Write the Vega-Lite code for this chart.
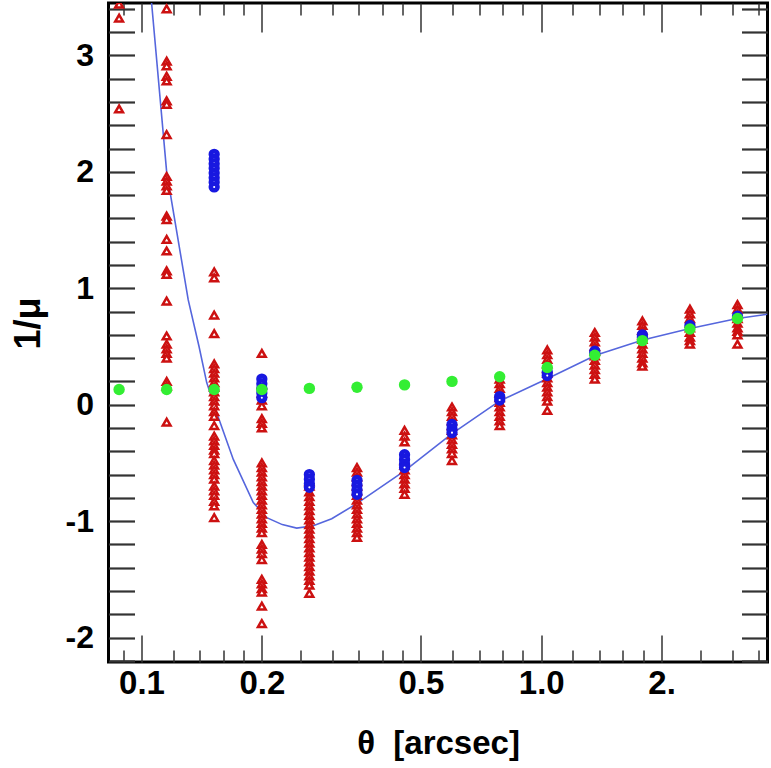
{
  "$schema": "https://vega.github.io/schema/vega-lite/v6.json",
  "width": 659,
  "height": 659,
  "autosize": {"type": "none"},
  "padding": {"left": 108.5, "top": 3, "right": 3.5, "bottom": 106},
  "background": "white",
  "config": {
    "view": {"stroke": "#000", "strokeWidth": 3},
    "axis": {"grid": false, "domain": false, "labelFont": "Liberation Sans", "labelFontWeight": "bold", "labelColor": "#000", "titleFont": "Liberation Sans", "titleColor": "#000", "tickColor": "#333", "labelOverlap": false, "labelFlush": false}
  },
  "datasets": {
    "curve": [
      {"theta": 0.100, "inv_mu": 4.4}, {"theta": 0.106, "inv_mu": 3.45}, {"theta": 0.1156, "inv_mu": 2.0}, {"theta": 0.1309, "inv_mu": 0.9},
      {"theta": 0.1393, "inv_mu": 0.5}, {"theta": 0.1456, "inv_mu": 0.19}, {"theta": 0.1542, "inv_mu": -0.07}, {"theta": 0.1697, "inv_mu": -0.47},
      {"theta": 0.1904, "inv_mu": -0.84}, {"theta": 0.2058, "inv_mu": -0.97}, {"theta": 0.225, "inv_mu": -1.03}, {"theta": 0.2445, "inv_mu": -1.06},
      {"theta": 0.269, "inv_mu": -1.04}, {"theta": 0.2991, "inv_mu": -0.98}, {"theta": 0.3454, "inv_mu": -0.85}, {"theta": 0.4541, "inv_mu": -0.57},
      {"theta": 0.597, "inv_mu": -0.25}, {"theta": 0.7853, "inv_mu": 0.03}, {"theta": 1.0316, "inv_mu": 0.22}, {"theta": 1.368, "inv_mu": 0.425},
      {"theta": 1.794, "inv_mu": 0.556}, {"theta": 2.355, "inv_mu": 0.654}, {"theta": 3.092, "inv_mu": 0.74}, {"theta": 3.68, "inv_mu": 0.777}
    ],
    "red": [
      {"theta": 0.0879, "inv_mu": 3.44}, {"theta": 0.0879, "inv_mu": 3.32}, {"theta": 0.0879, "inv_mu": 2.54},
      {"theta": 0.1156, "inv_mu": 3.40}, {"theta": 0.1156, "inv_mu": 2.95}, {"theta": 0.1156, "inv_mu": 2.91}, {"theta": 0.1156, "inv_mu": 2.82},
      {"theta": 0.1156, "inv_mu": 2.78}, {"theta": 0.1156, "inv_mu": 2.61}, {"theta": 0.1156, "inv_mu": 2.58}, {"theta": 0.1156, "inv_mu": 2.32},
      {"theta": 0.1156, "inv_mu": 1.96}, {"theta": 0.1156, "inv_mu": 1.92}, {"theta": 0.1156, "inv_mu": 1.88}, {"theta": 0.1156, "inv_mu": 1.84},
      {"theta": 0.1156, "inv_mu": 1.62}, {"theta": 0.1156, "inv_mu": 1.59}, {"theta": 0.1156, "inv_mu": 1.42}, {"theta": 0.1156, "inv_mu": 1.32},
      {"theta": 0.1156, "inv_mu": 1.15}, {"theta": 0.1156, "inv_mu": 1.12}, {"theta": 0.1156, "inv_mu": 0.89}, {"theta": 0.1156, "inv_mu": 0.59},
      {"theta": 0.1156, "inv_mu": 0.52}, {"theta": 0.1156, "inv_mu": 0.48}, {"theta": 0.1156, "inv_mu": 0.44}, {"theta": 0.1156, "inv_mu": 0.40},
      {"theta": 0.1156, "inv_mu": 0.20}, {"theta": 0.1156, "inv_mu": 0.16}, {"theta": 0.1156, "inv_mu": -0.15},
      {"theta": 0.152, "inv_mu": 1.14}, {"theta": 0.152, "inv_mu": 1.09}, {"theta": 0.152, "inv_mu": 0.77}, {"theta": 0.152, "inv_mu": 0.61},
      {"theta": 0.152, "inv_mu": 0.35}, {"theta": 0.152, "inv_mu": 0.31}, {"theta": 0.152, "inv_mu": 0.27}, {"theta": 0.152, "inv_mu": 0.23},
      {"theta": 0.152, "inv_mu": 0.19}, {"theta": 0.152, "inv_mu": 0.15}, {"theta": 0.152, "inv_mu": 0.11}, {"theta": 0.152, "inv_mu": 0.07},
      {"theta": 0.152, "inv_mu": 0.03}, {"theta": 0.152, "inv_mu": -0.01}, {"theta": 0.152, "inv_mu": -0.06}, {"theta": 0.152, "inv_mu": -0.10},
      {"theta": 0.152, "inv_mu": -0.18}, {"theta": 0.152, "inv_mu": -0.27}, {"theta": 0.152, "inv_mu": -0.31}, {"theta": 0.152, "inv_mu": -0.35},
      {"theta": 0.152, "inv_mu": -0.39}, {"theta": 0.152, "inv_mu": -0.42}, {"theta": 0.152, "inv_mu": -0.48}, {"theta": 0.152, "inv_mu": -0.52},
      {"theta": 0.152, "inv_mu": -0.56}, {"theta": 0.152, "inv_mu": -0.60}, {"theta": 0.152, "inv_mu": -0.64}, {"theta": 0.152, "inv_mu": -0.70},
      {"theta": 0.152, "inv_mu": -0.74}, {"theta": 0.152, "inv_mu": -0.78}, {"theta": 0.152, "inv_mu": -0.83}, {"theta": 0.152, "inv_mu": -0.87},
      {"theta": 0.152, "inv_mu": -0.97},
      {"theta": 0.2, "inv_mu": 0.44}, {"theta": 0.2, "inv_mu": 0.17}, {"theta": 0.2, "inv_mu": 0.10}, {"theta": 0.2, "inv_mu": 0.04},
      {"theta": 0.2, "inv_mu": -0.01}, {"theta": 0.2, "inv_mu": -0.12}, {"theta": 0.2, "inv_mu": -0.16}, {"theta": 0.2, "inv_mu": -0.20},
      {"theta": 0.2, "inv_mu": -0.50}, {"theta": 0.2, "inv_mu": -0.54}, {"theta": 0.2, "inv_mu": -0.58}, {"theta": 0.2, "inv_mu": -0.62},
      {"theta": 0.2, "inv_mu": -0.66}, {"theta": 0.2, "inv_mu": -0.70}, {"theta": 0.2, "inv_mu": -0.74}, {"theta": 0.2, "inv_mu": -0.78},
      {"theta": 0.2, "inv_mu": -0.82}, {"theta": 0.2, "inv_mu": -0.86}, {"theta": 0.2, "inv_mu": -0.90}, {"theta": 0.2, "inv_mu": -0.94},
      {"theta": 0.2, "inv_mu": -0.98}, {"theta": 0.2, "inv_mu": -1.02}, {"theta": 0.2, "inv_mu": -1.06}, {"theta": 0.2, "inv_mu": -1.10},
      {"theta": 0.2, "inv_mu": -1.20}, {"theta": 0.2, "inv_mu": -1.24}, {"theta": 0.2, "inv_mu": -1.28}, {"theta": 0.2, "inv_mu": -1.33},
      {"theta": 0.2, "inv_mu": -1.50}, {"theta": 0.2, "inv_mu": -1.54}, {"theta": 0.2, "inv_mu": -1.58}, {"theta": 0.2, "inv_mu": -1.61},
      {"theta": 0.2, "inv_mu": -1.73}, {"theta": 0.2, "inv_mu": -1.88},
      {"theta": 0.263, "inv_mu": -0.66}, {"theta": 0.263, "inv_mu": -0.70}, {"theta": 0.263, "inv_mu": -0.75}, {"theta": 0.263, "inv_mu": -0.79},
      {"theta": 0.263, "inv_mu": -0.83}, {"theta": 0.263, "inv_mu": -0.87}, {"theta": 0.263, "inv_mu": -0.91}, {"theta": 0.263, "inv_mu": -0.95},
      {"theta": 0.263, "inv_mu": -0.99}, {"theta": 0.263, "inv_mu": -1.03}, {"theta": 0.263, "inv_mu": -1.07}, {"theta": 0.263, "inv_mu": -1.11},
      {"theta": 0.263, "inv_mu": -1.15}, {"theta": 0.263, "inv_mu": -1.19}, {"theta": 0.263, "inv_mu": -1.23}, {"theta": 0.263, "inv_mu": -1.27},
      {"theta": 0.263, "inv_mu": -1.31}, {"theta": 0.263, "inv_mu": -1.35}, {"theta": 0.263, "inv_mu": -1.39}, {"theta": 0.263, "inv_mu": -1.43},
      {"theta": 0.263, "inv_mu": -1.47}, {"theta": 0.263, "inv_mu": -1.51}, {"theta": 0.263, "inv_mu": -1.55}, {"theta": 0.263, "inv_mu": -1.62},
      {"theta": 0.346, "inv_mu": -0.54}, {"theta": 0.346, "inv_mu": -0.58}, {"theta": 0.346, "inv_mu": -0.62}, {"theta": 0.346, "inv_mu": -0.66},
      {"theta": 0.346, "inv_mu": -0.70}, {"theta": 0.346, "inv_mu": -0.74}, {"theta": 0.346, "inv_mu": -0.78}, {"theta": 0.346, "inv_mu": -0.82},
      {"theta": 0.346, "inv_mu": -0.86}, {"theta": 0.346, "inv_mu": -0.90}, {"theta": 0.346, "inv_mu": -0.94}, {"theta": 0.346, "inv_mu": -0.98},
      {"theta": 0.346, "inv_mu": -1.02}, {"theta": 0.346, "inv_mu": -1.06}, {"theta": 0.346, "inv_mu": -1.10}, {"theta": 0.346, "inv_mu": -1.14},
      {"theta": 0.455, "inv_mu": -0.22}, {"theta": 0.455, "inv_mu": -0.27}, {"theta": 0.455, "inv_mu": -0.32}, {"theta": 0.455, "inv_mu": -0.48},
      {"theta": 0.455, "inv_mu": -0.52}, {"theta": 0.455, "inv_mu": -0.56}, {"theta": 0.455, "inv_mu": -0.60}, {"theta": 0.455, "inv_mu": -0.64},
      {"theta": 0.455, "inv_mu": -0.68}, {"theta": 0.455, "inv_mu": -0.72}, {"theta": 0.455, "inv_mu": -0.77},
      {"theta": 0.598, "inv_mu": -0.02}, {"theta": 0.598, "inv_mu": -0.06}, {"theta": 0.598, "inv_mu": -0.10}, {"theta": 0.598, "inv_mu": -0.14},
      {"theta": 0.598, "inv_mu": -0.18}, {"theta": 0.598, "inv_mu": -0.22}, {"theta": 0.598, "inv_mu": -0.26}, {"theta": 0.598, "inv_mu": -0.30},
      {"theta": 0.598, "inv_mu": -0.34}, {"theta": 0.598, "inv_mu": -0.38}, {"theta": 0.598, "inv_mu": -0.42}, {"theta": 0.598, "inv_mu": -0.48},
      {"theta": 0.787, "inv_mu": 0.22}, {"theta": 0.787, "inv_mu": 0.18}, {"theta": 0.787, "inv_mu": 0.14}, {"theta": 0.787, "inv_mu": 0.10},
      {"theta": 0.787, "inv_mu": 0.06}, {"theta": 0.787, "inv_mu": 0.02}, {"theta": 0.787, "inv_mu": -0.02}, {"theta": 0.787, "inv_mu": -0.06},
      {"theta": 0.787, "inv_mu": -0.10}, {"theta": 0.787, "inv_mu": -0.14}, {"theta": 0.787, "inv_mu": -0.18},
      {"theta": 1.035, "inv_mu": 0.47}, {"theta": 1.035, "inv_mu": 0.43}, {"theta": 1.035, "inv_mu": 0.39}, {"theta": 1.035, "inv_mu": 0.35},
      {"theta": 1.035, "inv_mu": 0.31}, {"theta": 1.035, "inv_mu": 0.27}, {"theta": 1.035, "inv_mu": 0.23}, {"theta": 1.035, "inv_mu": 0.19},
      {"theta": 1.035, "inv_mu": 0.15}, {"theta": 1.035, "inv_mu": 0.11}, {"theta": 1.035, "inv_mu": 0.07}, {"theta": 1.035, "inv_mu": 0.03},
      {"theta": 1.035, "inv_mu": -0.05},
      {"theta": 1.361, "inv_mu": 0.62}, {"theta": 1.361, "inv_mu": 0.58}, {"theta": 1.361, "inv_mu": 0.54}, {"theta": 1.361, "inv_mu": 0.50},
      {"theta": 1.361, "inv_mu": 0.46}, {"theta": 1.361, "inv_mu": 0.42}, {"theta": 1.361, "inv_mu": 0.38}, {"theta": 1.361, "inv_mu": 0.34},
      {"theta": 1.361, "inv_mu": 0.30}, {"theta": 1.361, "inv_mu": 0.26}, {"theta": 1.361, "inv_mu": 0.22},
      {"theta": 1.79, "inv_mu": 0.72}, {"theta": 1.79, "inv_mu": 0.68}, {"theta": 1.79, "inv_mu": 0.64}, {"theta": 1.79, "inv_mu": 0.60},
      {"theta": 1.79, "inv_mu": 0.56}, {"theta": 1.79, "inv_mu": 0.52}, {"theta": 1.79, "inv_mu": 0.48}, {"theta": 1.79, "inv_mu": 0.44},
      {"theta": 1.79, "inv_mu": 0.40}, {"theta": 1.79, "inv_mu": 0.36}, {"theta": 1.79, "inv_mu": 0.33},
      {"theta": 2.354, "inv_mu": 0.82}, {"theta": 2.354, "inv_mu": 0.78}, {"theta": 2.354, "inv_mu": 0.74}, {"theta": 2.354, "inv_mu": 0.70},
      {"theta": 2.354, "inv_mu": 0.66}, {"theta": 2.354, "inv_mu": 0.62}, {"theta": 2.354, "inv_mu": 0.58}, {"theta": 2.354, "inv_mu": 0.55},
      {"theta": 2.354, "inv_mu": 0.52},
      {"theta": 3.096, "inv_mu": 0.86}, {"theta": 3.096, "inv_mu": 0.82}, {"theta": 3.096, "inv_mu": 0.78}, {"theta": 3.096, "inv_mu": 0.74},
      {"theta": 3.096, "inv_mu": 0.70}, {"theta": 3.096, "inv_mu": 0.66}, {"theta": 3.096, "inv_mu": 0.63}, {"theta": 3.096, "inv_mu": 0.60},
      {"theta": 3.096, "inv_mu": 0.52}
    ],
    "blue": [
      {"theta": 0.152, "inv_mu": 2.15}, {"theta": 0.152, "inv_mu": 2.11}, {"theta": 0.152, "inv_mu": 2.07}, {"theta": 0.152, "inv_mu": 2.03},
      {"theta": 0.152, "inv_mu": 1.99}, {"theta": 0.152, "inv_mu": 1.95}, {"theta": 0.152, "inv_mu": 1.91}, {"theta": 0.152, "inv_mu": 1.87},
      {"theta": 0.2, "inv_mu": 0.22}, {"theta": 0.2, "inv_mu": 0.18}, {"theta": 0.2, "inv_mu": 0.14}, {"theta": 0.2, "inv_mu": 0.10}, {"theta": 0.2, "inv_mu": 0.06},
      {"theta": 0.263, "inv_mu": -0.60}, {"theta": 0.263, "inv_mu": -0.64}, {"theta": 0.263, "inv_mu": -0.68}, {"theta": 0.263, "inv_mu": -0.71},
      {"theta": 0.346, "inv_mu": -0.65}, {"theta": 0.346, "inv_mu": -0.69}, {"theta": 0.346, "inv_mu": -0.73}, {"theta": 0.346, "inv_mu": -0.77},
      {"theta": 0.455, "inv_mu": -0.43}, {"theta": 0.455, "inv_mu": -0.47}, {"theta": 0.455, "inv_mu": -0.51}, {"theta": 0.455, "inv_mu": -0.54},
      {"theta": 0.598, "inv_mu": -0.17}, {"theta": 0.598, "inv_mu": -0.21}, {"theta": 0.598, "inv_mu": -0.24},
      {"theta": 0.787, "inv_mu": 0.07}, {"theta": 0.787, "inv_mu": 0.04},
      {"theta": 1.035, "inv_mu": 0.28}, {"theta": 1.035, "inv_mu": 0.25},
      {"theta": 1.361, "inv_mu": 0.46}, {"theta": 1.361, "inv_mu": 0.44},
      {"theta": 1.79, "inv_mu": 0.60}, {"theta": 1.79, "inv_mu": 0.58},
      {"theta": 2.354, "inv_mu": 0.68},
      {"theta": 3.096, "inv_mu": 0.76}
    ],
    "green": [
      {"theta": 0.0879, "inv_mu": 0.13}, {"theta": 0.1156, "inv_mu": 0.13}, {"theta": 0.152, "inv_mu": 0.13}, {"theta": 0.2, "inv_mu": 0.13},
      {"theta": 0.263, "inv_mu": 0.14}, {"theta": 0.346, "inv_mu": 0.15}, {"theta": 0.455, "inv_mu": 0.17}, {"theta": 0.598, "inv_mu": 0.20},
      {"theta": 0.787, "inv_mu": 0.24}, {"theta": 1.035, "inv_mu": 0.32}, {"theta": 1.361, "inv_mu": 0.425}, {"theta": 1.79, "inv_mu": 0.55},
      {"theta": 2.354, "inv_mu": 0.65}, {"theta": 3.096, "inv_mu": 0.74}
    ]
  },
  "layer": [
    {
      "data": {"name": "curve"},
      "mark": {"type": "line", "color": "#5566dd", "strokeWidth": 1.6, "clip": true},
      "encoding": {
        "x": {"field": "theta", "type": "quantitative", "scale": {"type": "log", "domain": [0.0827, 3.68], "nice": false},
          "axis": {"orient": "bottom", "values": [0.1, 0.2, 0.5, 1, 2], "tickSize": -27, "tickWidth": 1.5,
            "labelExpr": "datum.value == 1 ? '1.0' : datum.value == 2 ? '2.' : toString(datum.value)",
            "labelFontSize": 33, "labelPadding": 32,
            "title": "θ\u00a0\u00a0[arcsec]", "titleFontSize": 33, "titleFontWeight": "bold", "titleY": 91, "titleBaseline": "alphabetic"}},
        "y": {"field": "inv_mu", "type": "quantitative", "scale": {"domain": [-2.21, 3.45], "nice": false, "zero": false},
          "axis": {"orient": "left", "values": [-2.2, -2, -1.8, -1.6, -1.4, -1.2, -1, -0.8, -0.6, -0.4, -0.2, 0, 0.2, 0.4, 0.6, 0.8, 1, 1.2, 1.4, 1.6, 1.8, 2, 2.2, 2.4, 2.6, 2.8, 3, 3.2, 3.4],
            "tickSize": -26, "tickWidth": 2.2,
            "labelExpr": "abs(datum.value - round(datum.value)) < 0.01 ? toString(round(datum.value)) : ''",
            "labelFontSize": 32, "labelPadding": 41,
            "title": "1/μ", "titleFontSize": 36, "titleFontWeight": "bold", "titleAngle": -90, "titleX": -80, "titleY": 320, "titleAlign": "center", "titleBaseline": "middle"}}
      }
    },
    {
      "data": {"name": "red"},
      "mark": {"type": "point", "shape": "triangle-up", "size": 60, "filled": true, "fill": "#ffffff", "stroke": "#cc1111", "strokeWidth": 2.5, "opacity": 1, "clip": true},
      "encoding": {
        "x": {"field": "theta", "type": "quantitative", "scale": {"type": "log", "domain": [0.0827, 3.68], "nice": false},
          "axis": {"orient": "bottom", "values": [0.09, 0.12, 0.14, 0.16, 0.18, 0.25, 0.3, 0.35, 0.4, 0.45, 0.6, 0.7, 0.8, 0.9, 1.2, 1.4, 1.6, 1.8, 2.5, 3, 3.5],
            "tickSize": -12, "tickWidth": 1.5, "labels": false, "title": null}},
        "y": {"field": "inv_mu", "type": "quantitative", "scale": {"domain": [-2.21, 3.45], "nice": false, "zero": false},
          "axis": {"orient": "right", "values": [-2.2, -2, -1.8, -1.6, -1.4, -1.2, -1, -0.8, -0.6, -0.4, -0.2, 0, 0.2, 0.4, 0.6, 0.8, 1, 1.2, 1.4, 1.6, 1.8, 2, 2.2, 2.4, 2.6, 2.8, 3, 3.2, 3.4],
            "tickSize": -26, "tickWidth": 2.2, "labels": false, "title": null}}
      }
    },
    {
      "data": {"name": "blue"},
      "mark": {"type": "point", "shape": "circle", "size": 45, "filled": true, "fill": "#ffffff", "stroke": "#1818e0", "strokeWidth": 4.6, "opacity": 1, "clip": true},
      "encoding": {
        "x": {"field": "theta", "type": "quantitative", "scale": {"type": "log", "domain": [0.0827, 3.68], "nice": false},
          "axis": {"orient": "top", "values": [0.1, 0.2, 0.5, 1, 2], "tickSize": -29, "tickWidth": 1.5, "labels": false, "title": null}},
        "y": {"field": "inv_mu", "type": "quantitative", "scale": {"domain": [-2.21, 3.45], "nice": false, "zero": false}, "axis": null}
      }
    },
    {
      "data": {"name": "green"},
      "mark": {"type": "point", "shape": "circle", "size": 130, "filled": true, "color": "#33ee33", "opacity": 1, "clip": true},
      "encoding": {
        "x": {"field": "theta", "type": "quantitative", "scale": {"type": "log", "domain": [0.0827, 3.68], "nice": false},
          "axis": {"orient": "top", "values": [0.09, 0.12, 0.14, 0.16, 0.18, 0.25, 0.3, 0.35, 0.4, 0.45, 0.6, 0.7, 0.8, 0.9, 1.2, 1.4, 1.6, 1.8, 2.5, 3, 3.5],
            "tickSize": -12, "tickWidth": 1.5, "labels": false, "title": null}},
        "y": {"field": "inv_mu", "type": "quantitative", "scale": {"domain": [-2.21, 3.45], "nice": false, "zero": false}, "axis": null}
      }
    }
  ],
  "resolve": {"axis": {"x": "independent", "y": "independent"}}
}
